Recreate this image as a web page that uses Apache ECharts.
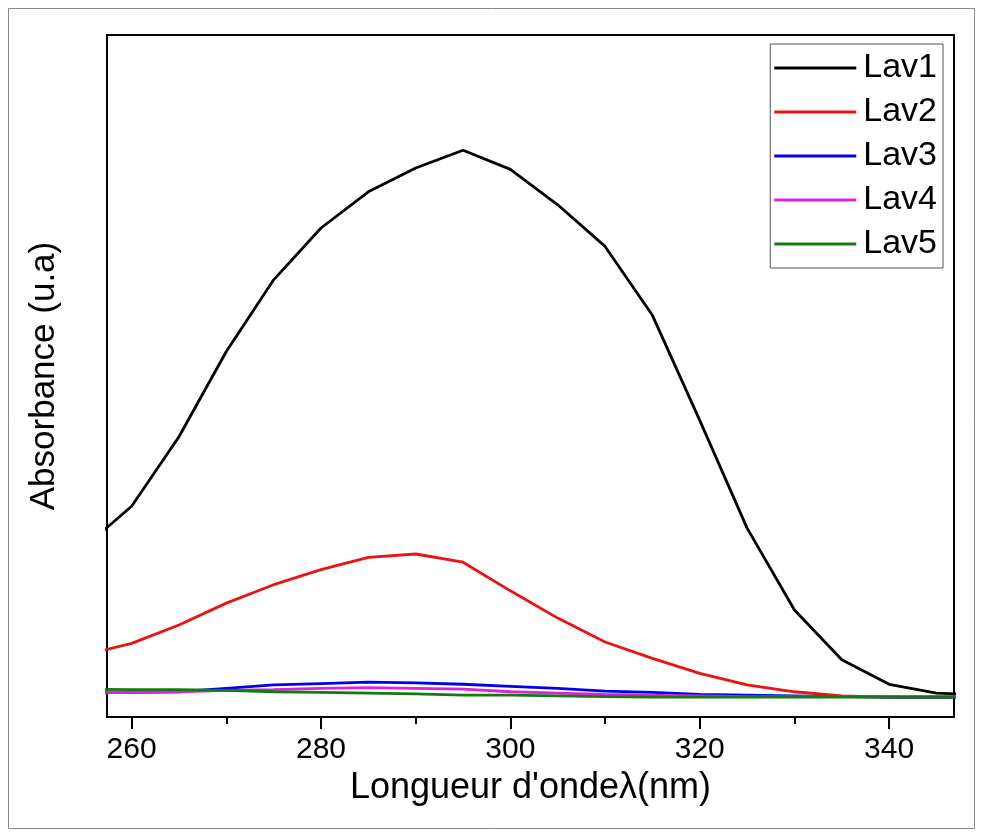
<!DOCTYPE html>
<html>
<head>
<meta charset="utf-8">
<script src="https://cdn.jsdelivr.net/npm/echarts@6/dist/echarts.min.js"></script>
<style>
  html, body { margin: 0; padding: 0; background: #fff; }
  #chart { width: 982px; height: 836px; }
</style>
</head>
<body>
<div id="chart"></div>
<script>
// wavelengths (nm), 5 nm step
const wavelengths = [255, 260, 265, 270, 275, 280, 285, 290, 295, 300, 305, 310, 315, 320, 325, 330, 335, 340, 345, 350];

// absorbance (arbitrary units)
const lav1 = [0.249, 0.309, 0.411, 0.536, 0.641, 0.717, 0.770, 0.805, 0.831, 0.803, 0.751, 0.690, 0.589, 0.435, 0.277, 0.157, 0.084, 0.048, 0.035, 0.032];
const lav2 = [0.091, 0.108, 0.135, 0.167, 0.194, 0.216, 0.234, 0.239, 0.227, 0.185, 0.145, 0.110, 0.086, 0.064, 0.047, 0.037, 0.031, 0.029, 0.029, 0.029];
const lav3 = [0.037, 0.036, 0.037, 0.042, 0.047, 0.049, 0.051, 0.050, 0.048, 0.045, 0.042, 0.038, 0.036, 0.033, 0.032, 0.031, 0.030, 0.029, 0.029, 0.029];
const lav4 = [0.036, 0.036, 0.037, 0.039, 0.040, 0.042, 0.043, 0.042, 0.041, 0.037, 0.035, 0.033, 0.032, 0.031, 0.030, 0.030, 0.030, 0.030, 0.030, 0.030];
const lav5 = [0.041, 0.040, 0.040, 0.039, 0.037, 0.036, 0.035, 0.034, 0.032, 0.032, 0.031, 0.030, 0.029, 0.029, 0.029, 0.029, 0.029, 0.029, 0.029, 0.029];

const seriesNames = ['Lav1', 'Lav2', 'Lav3', 'Lav4', 'Lav5'];
const seriesColors = ['#000000', '#ee1111', '#0000ee', '#dd22dd', '#117a11'];
const majorTicks = [260, 280, 300, 320, 340];
const minorTicks = [270, 290, 310, 330];

const X_MIN = 257.4;
const X_MAX = 346.85;
const FONT = "'Liberation Sans', Arial, Helvetica, sans-serif";

const chart = echarts.init(document.getElementById('chart'));

function pairs(values) {
    return wavelengths.map(function (w, i) { return [w, values[i]]; });
}

const allValues = [lav1, lav2, lav3, lav4, lav5];

const options = {
    animation: false,
    backgroundColor: '#fff',
    textStyle: { fontFamily: FONT, color: '#000' },
    graphic: [{
        type: 'rect',
        shape: { x: 8.5, y: 8.5, width: 966, height: 820 },
        style: { fill: 'none', stroke: '#888', lineWidth: 1 },
        silent: true,
        z: -10
    }],
    grid: {
        left: 107,
        right: 28,
        top: 35,
        bottom: 119,
        show: true,
        borderColor: '#000',
        borderWidth: 2,
        backgroundColor: 'transparent'
    },
    legend: {
        data: seriesNames,
        orient: 'vertical',
        right: 39,
        top: 44,
        padding: [7, 6, 7, 4],
        itemGap: 10,
        itemWidth: 82,
        itemHeight: 3,
        icon: 'rect',
        borderColor: '#555',
        borderWidth: 1,
        backgroundColor: '#fff',
        textStyle: { fontFamily: FONT, fontSize: 34, color: '#000', padding: [0, 0, 0, 2] }
    },
    xAxis: [{
        type: 'value',
        min: X_MIN,
        max: X_MAX,
        position: 'bottom',
        name: "Longueur d'ondeλ(nm)",
        nameLocation: 'middle',
        nameGap: 53,
        nameTextStyle: { fontFamily: FONT, fontSize: 36, color: '#000' },
        axisLine: { show: true, onZero: false, lineStyle: { color: '#000', width: 2 } },
        axisTick: { show: true, inside: false, length: 12, customValues: majorTicks, lineStyle: { color: '#000', width: 2 } },
        axisLabel: { show: true, margin: 18, customValues: majorTicks, fontFamily: FONT, fontSize: 30, color: '#000' },
        splitLine: { show: false }
    }, {
        type: 'value',
        min: X_MIN,
        max: X_MAX,
        position: 'bottom',
        axisLine: { show: false },
        axisTick: { show: true, inside: false, length: 7, customValues: minorTicks, lineStyle: { color: '#000', width: 2 } },
        axisLabel: { show: false },
        splitLine: { show: false }
    }],
    yAxis: {
        type: 'value',
        min: 0,
        max: 1,
        name: 'Absorbance (u.a)',
        nameLocation: 'middle',
        nameGap: 45,
        nameTextStyle: { fontFamily: FONT, fontSize: 35, color: '#000' },
        axisLine: { show: true, lineStyle: { color: '#000', width: 2 } },
        axisTick: { show: false },
        axisLabel: { show: false },
        splitLine: { show: false }
    },
    series: seriesNames.map(function (name, i) {
        return {
            name: name,
            type: 'line',
            xAxisIndex: 0,
            data: pairs(allValues[i]),
            symbol: 'none',
            smooth: false,
            clip: true,
            color: seriesColors[i],
            lineStyle: { color: seriesColors[i], width: 2.8 }
        };
    })
};

chart.setOption(options);
</script>
</body>
</html>
